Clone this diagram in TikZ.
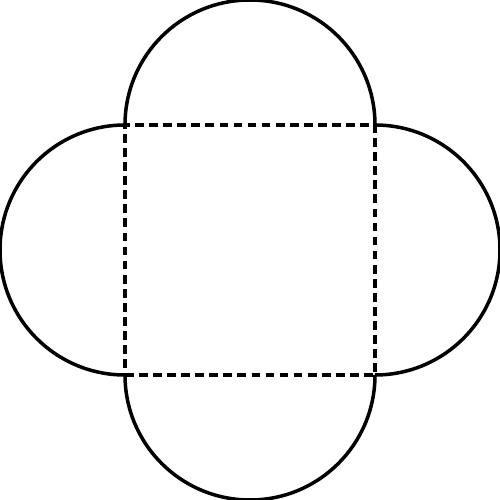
\documentclass[tikz,border=0pt]{standalone}
\begin{document}
\begin{tikzpicture}[scale=1,line width=2pt,
fold/.style={dash pattern=on 5pt off 3pt}]
\useasboundingbox (-5,-5) rectangle (5,5);
\coordinate (sw) at (-2.5,-2.5);
\coordinate (se) at (2.5,-2.5);
\coordinate (ne) at (2.5,2.5);
\coordinate (nw) at (-2.5,2.5);
\draw[fold] (sw) -- (se) -- (ne) -- (nw) -- cycle;
\draw (nw) arc (180:0:2.5) (ne) arc (90:-90:2.5) (se) arc (0:-180:2.5) (sw) arc (270:90:2.5);
\end{tikzpicture}
\end{document}
